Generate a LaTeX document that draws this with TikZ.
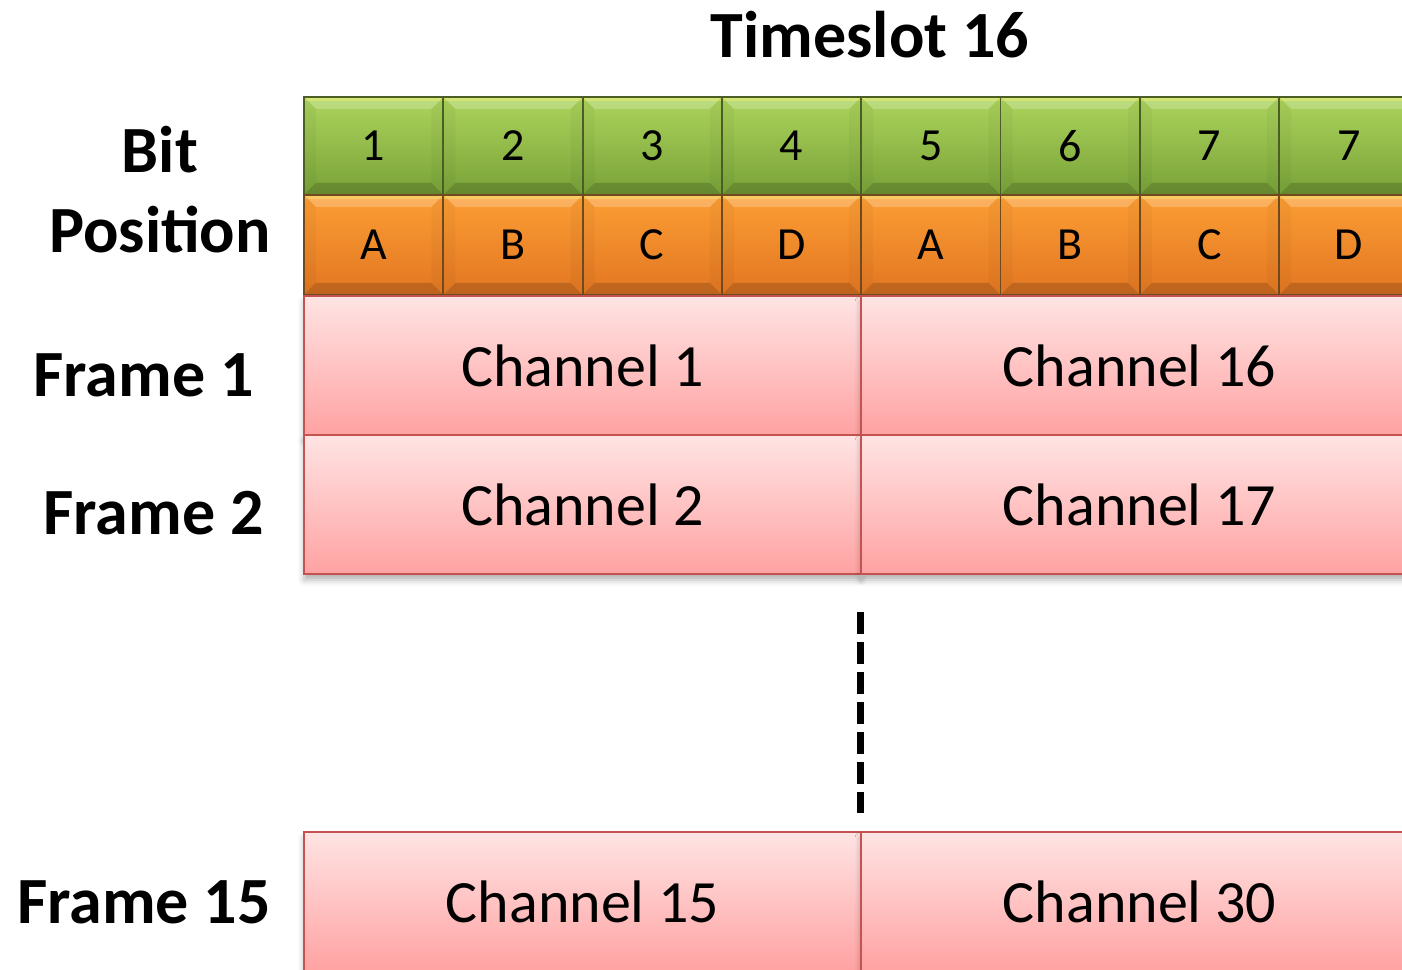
\documentclass[tikz,border=0pt]{standalone}
\usepackage{fontspec}
\setmainfont{Carlito}
\usetikzlibrary{calc,shadows.blur}

\definecolor{grtop}{RGB}{172,212,92}
\definecolor{grbot}{RGB}{120,162,56}
\definecolor{gredge}{RGB}{74,94,38}
\definecolor{ortop}{RGB}{252,158,52}
\definecolor{orbot}{RGB}{226,118,34}
\definecolor{oredge}{RGB}{112,74,30}
\definecolor{pktop}{RGB}{255,228,228}
\definecolor{pkbot}{RGB}{255,162,162}
\definecolor{pkedge}{RGB}{196,82,80}

% width of the bevelled rim on the bit cells
\def\bvw{12}

\tikzset{
  bevel/.style={path picture={
    \coordinate (pA) at (path picture bounding box.north west);
    \coordinate (pB) at (path picture bounding box.north east);
    \coordinate (pC) at (path picture bounding box.south east);
    \coordinate (pD) at (path picture bounding box.south west);
    \fill[white,opacity=.22] (pA) -- (pB) -- ($(pB)+(-\bvw,-\bvw)$) -- ($(pA)+(\bvw,-\bvw)$) -- cycle;
    \fill[yellow!60!white,opacity=.35] (pA) -- (pB) -- ($(pB)+(0,-4)$) -- ($(pA)+(0,-4)$) -- cycle;
    \fill[black,opacity=.16] (pD) -- (pC) -- ($(pC)+(-\bvw,\bvw)$) -- ($(pD)+(\bvw,\bvw)$) -- cycle;
    \fill[black,opacity=.03] (pA) -- (pD) -- ($(pD)+(\bvw,\bvw)$) -- ($(pA)+(\bvw,-\bvw)$) -- cycle;
    \fill[black,opacity=.03] (pB) -- (pC) -- ($(pC)+(-\bvw,\bvw)$) -- ($(pB)+(-\bvw,-\bvw)$) -- cycle;
  }},
  cellbase/.style={minimum width=139.3pt, inner sep=0pt, outer sep=0pt,
    line width=1.8pt, bevel, font=\fontsize{46}{50}\selectfont},
  bitcell/.style={cellbase, minimum height=98pt, draw=gredge,
    top color=grtop, bottom color=grbot},
  codecell/.style={cellbase, minimum height=100pt, draw=oredge,
    top color=ortop, bottom color=orbot},
  chancell/.style={minimum width=557pt, minimum height=139pt, inner sep=0pt,
    outer sep=0pt, draw=pkedge, line width=1.6pt, top color=pktop,
    bottom color=pkbot, font=\fontsize{60}{66}\selectfont,
    blur shadow={shadow xshift=0pt, shadow yshift=-6pt,
      shadow blur radius=6pt, shadow opacity=30}},
  rowlabel/.style={font=\fontsize{66}{72}\selectfont\bfseries, inner sep=0pt},
  gapline/.style={line width=7pt, dash pattern=on 22pt off 8pt},
}

\begin{document}
\begin{tikzpicture}[x=1pt,y=1pt]
\useasboundingbox (0,0) rectangle (1402,969);
\clip (0,0) rectangle (1402,969);

% heading and row labels
\node[rowlabel] (title) at (870,934) {Timeslot 16};
\node[rowlabel] (bit) at (160,819) {Bit};
\node[rowlabel] (pos) at (160,739) {Position};
\node[rowlabel] (f1) at (143.5,594) {Frame 1};
\node[rowlabel] (f2) at (153.5,456) {Frame 2};
\node[rowlabel] (f15) at (144,67) {Frame 15};

% bit numbers and signalling bits
\foreach \d [count=\k] in {1,2,3,4,5,6,7,7}
  \node[bitcell] (g\k) at ({304+139.3*(\k-0.5)},823) {\d};
\foreach \d [count=\k] in {A,B,C,D,A,B,C,D}
  \node[codecell] (o\k) at ({304+139.3*(\k-0.5)},724) {\d};

% channel assignment per frame
\node[chancell] (c1)  at (582.5,603.5) {Channel 1};
\node[chancell] (c16) at (1139.5,603.5) {Channel 16};
\node[chancell] (c2)  at (582.5,464.5) {Channel 2};
\node[chancell] (c17) at (1139.5,464.5) {Channel 17};
\node[chancell] (c15) at (582.5,67.5) {Channel 15};
\node[chancell] (c30) at (1139.5,67.5) {Channel 30};

% frames 3 to 14 left out
\coordinate (gtop) at (860,357);
\coordinate (gbot) at (860,156);
\draw[gapline] (gtop) -- (gbot);
\end{tikzpicture}
\end{document}
